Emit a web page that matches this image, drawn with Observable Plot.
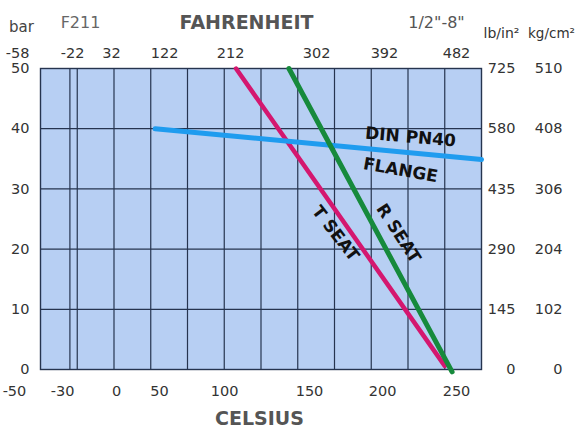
<!DOCTYPE html>
<html>
<head>
<meta charset="utf-8">
<script src="https://cdn.jsdelivr.net/npm/d3@7"></script>
<script src="https://cdn.jsdelivr.net/npm/@observablehq/plot@0.6"></script>
<style>
  html, body { margin: 0; padding: 0; background: #fff; }
</style>
</head>
<body>
<div id="chart"></div>
<script>
// ---- data ----
const celsiusGrid = [-30, -25, 0, 25, 50, 75, 100, 125, 150, 175, 200, 225];
const barGrid = [10, 20, 30, 40];
const barTicks = [0, 10, 20, 30, 40, 50];
const barLabels = ["0", "10", "20", "30", "40", "50"];
const lbLabels = ["0", "145", "290", "435", "580", "725"];
const kgLabels = ["0", "102", "204", "306", "408", "510"];
// tick labels as printed on the chart, and where they sit along the grid's celsius scale
const celsiusLabels = ["-50", "-30", "0", "50", "100", "150", "200", "250"];
const celsiusLabelAt = [-67.7, -35, 1.7, 31, 75.2, 133, 182.7, 233];
const fahrenheitLabels = ["-58", "-22", "32", "122", "212", "302", "392", "482"];
const fahrenheitLabelAt = [-65.6, -28.2, -1.7, 34.4, 79.3, 137.8, 184, 233];

// rating curves: temperature (°C) vs pressure (bar)
const tSeatCelsius = [83, 225];
const tSeatBar = [50, 0.6];
const rSeatCelsius = [119, 230];
const rSeatBar = [50, -0.4];
const flangeCelsius = [28, 250];
const flangeBar = [40, 34.9];

// curve annotations
const curveLabels = ["DIN PN40", "FLANGE", "T SEAT", "R SEAT"];
const curveLabelCelsius = [201.7, 194.9, 150.7, 193.5];
const curveLabelBar = [38.6, 33.1, 22.6, 22.6];
const curveLabelAngle = [5, 10, 52, 57];

// ---- build ----
const pts = (xs, ys) => xs.map((c, i) => ({c, b: ys[i]}));
const gridColor = "#26344f";

const marks = [
  Plot.frame({fill: "#b7cff3", stroke: "none"}),
  Plot.ruleX(celsiusGrid, {stroke: gridColor, strokeWidth: 1.2}),
  Plot.ruleY(barGrid, {stroke: gridColor, strokeWidth: 1.2}),
  Plot.frame({stroke: gridColor, strokeWidth: 1.4}),
  Plot.line(pts(tSeatCelsius, tSeatBar), {x: "c", y: "b", stroke: "#d4176f", strokeWidth: 4.5}),
  Plot.line(pts(flangeCelsius, flangeBar), {x: "c", y: "b", stroke: "#1f9cef", strokeWidth: 5}),
  Plot.line(pts(rSeatCelsius, rSeatBar), {x: "c", y: "b", stroke: "#168a3c", strokeWidth: 5}),
  // axes
  Plot.axisY(barTicks, {anchor: "left", label: null, tickSize: 0, tickPadding: 11, tickFormat: (d, i) => barLabels[i]}),
  Plot.axisY(barTicks, {anchor: "right", label: null, tickSize: 0, tickPadding: 34, textAnchor: "end", tickFormat: (d, i) => lbLabels[i]}),
  Plot.axisY(barTicks, {anchor: "right", label: null, tickSize: 0, tickPadding: 81, textAnchor: "end", tickFormat: (d, i) => kgLabels[i]}),
  Plot.axisX(celsiusLabelAt, {anchor: "bottom", label: null, tickSize: 0, tickPadding: 16, tickFormat: (d, i) => celsiusLabels[i]}),
  Plot.axisX(fahrenheitLabelAt, {anchor: "top", label: null, tickSize: 0, tickPadding: 10.5, tickFormat: (d, i) => fahrenheitLabels[i]}),
  // titles
  Plot.text(["bar"], {frameAnchor: "top-left", dx: -19, dy: -41, fontSize: 15, fill: "#444", textAnchor: "middle", lineAnchor: "middle"}),
  Plot.text(["F211"], {frameAnchor: "top-left", dx: 40, dy: -46, fontSize: 16, fill: "#666", textAnchor: "middle", lineAnchor: "middle"}),
  Plot.text(["FAHRENHEIT"], {frameAnchor: "top-left", dx: 206, dy: -46, fontSize: 19, fontWeight: "bold", fill: "#555", textAnchor: "middle", lineAnchor: "middle"}),
  Plot.text(["1/2\"-8\""], {frameAnchor: "top-left", dx: 396, dy: -46, fontSize: 16, fill: "#555", textAnchor: "middle", lineAnchor: "middle"}),
  Plot.text(["lb/in²"], {frameAnchor: "top-left", dx: 461, dy: -35, fontSize: 14, fill: "#333", textAnchor: "middle", lineAnchor: "middle"}),
  Plot.text(["kg/cm²"], {frameAnchor: "top-left", dx: 511, dy: -35, fontSize: 13.5, fill: "#333", textAnchor: "middle", lineAnchor: "middle"}),
  Plot.text(["CELSIUS"], {frameAnchor: "bottom-left", dx: 219, dy: 49, fontSize: 19, fontWeight: "bold", fill: "#555", textAnchor: "middle", lineAnchor: "middle"})
];

curveLabels.forEach((t, i) => {
  marks.push(Plot.text([t], {
    x: () => curveLabelCelsius[i], y: () => curveLabelBar[i],
    rotate: curveLabelAngle[i], fontSize: 17, fontWeight: "bold", fill: "#111",
    textAnchor: "middle", lineAnchor: "middle"
  }));
});

const chart = Plot.plot({
  width: 577,
  height: 428,
  marginLeft: 40,
  marginRight: 96,
  marginTop: 68,
  marginBottom: 59,
  x: {domain: [-50, 250]},
  y: {domain: [0, 50]},
  style: {fontFamily: "DejaVu Sans", fontSize: "14.5px", color: "#333", background: "#fff", overflow: "visible"},
  marks
});
document.getElementById("chart").append(chart);
</script>
</body>
</html>
